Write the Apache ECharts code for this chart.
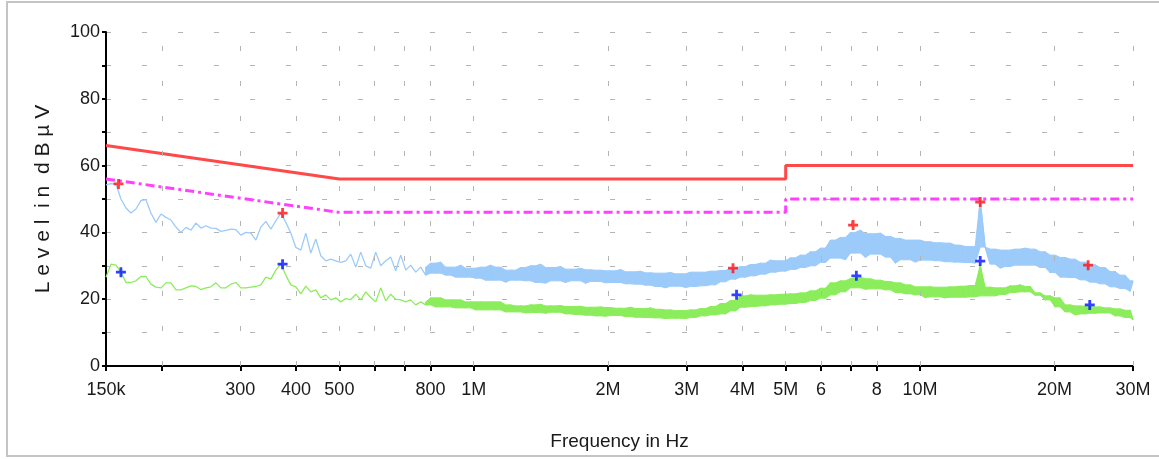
<!DOCTYPE html>
<html>
<head>
<meta charset="utf-8">
<script src="https://cdn.jsdelivr.net/npm/echarts@6/dist/echarts.min.js"></script>
<style>
  html, body { margin: 0; padding: 0; background: #fff; }
  #chart { width: 1159px; height: 459px; }
</style>
</head>
<body>
<div id="chart"></div>
<script>
// sweep frequencies in kHz
const freqKHz = [150,153.9,157.9,162,166.3,170.6,175.1,179.6,184.3,189.1,194.1,199.2,204.4,209.7,215.2,220.8,226.6,232.5,238.5,244.8,
  251.2,257.7,264.5,271.4,278.4,285.7,293.2,300.8,308.7,316.7,325,333.5,342.2,351.1,360.3,369.7,379.3,389.2,399.4,409.8,
  420.5,431.5,442.8,454.3,466.2,478.3,490.8,503.6,516.8,530.2,544.1,558.3,572.9,587.8,603.2,618.9,635.1,651.7,668.7,686.1,
  704.1,722.4,741.3,760.7,780.5,800.9,821.8,843.3,865.3,887.9,911.1,934.9,959.3,984.2,1010,1036,1063,1091,1120,1149,
  1179,1209,1241,1274,1307,1341,1376,1412,1449,1487,1526,1565,1606,1648,1691,1735,1781,1827,1875,1924,
  1974,2026,2079,2133,2189,2246,2304,2365,2426,2489,2554,2621,2690,2760,2832,2906,2982,3060,3140,3222,
  3306,3392,3481,3572,3665,3761,3859,3960,4063,4169,4278,4390,4505,4622,4743,4867,4994,5124,5258,5396,
  5537,5681,5830,5982,6138,6298,6463,6632,6805,6983,7165,7352,7544,7741,7943,8151,8364,8582,8806,9036,
  9272,9514,9762,10010,10270,10540,10820,11100,11390,11680,11990,12300,12620,12950,13290,13640,13990,14360,14730,15120,
  15510,15920,16330,16760,17200,17650,18110,18580,19060,19560,20070,20600,21140,21690,22250,22830,23430,24040,24670,25310,
  25970,26650,27350,28060,28800,29550,30000];

// peak detector trace (dBuV)
const peakLevel = [54.2,54.6,54.5,50,47.3,45.8,47,49.5,49.8,45.8,
  43,45.5,44.5,43.7,41.6,40,41.5,40.7,42.8,41.3,
  42,41.3,41.2,40.3,40.6,41,40.8,39.2,40,39.8,
  37.7,41.6,43.3,41,43.5,45.8,43,39.8,35.5,34.7,
  39.8,33.8,38,33,31.5,32,31.5,31,31.5,33.5,
  29.6,34.1,30,29.3,34.1,30,31.5,32.6,28.5,33.2,
  28.7,30.2,28.1,29.6,27.2,30.8,27.8,31.1,27.2,29.6,
  26.6,30.2,26.6,29.3,26.3,29.6,25.7,30.2,25.7,29.6,
  25.1,28.7,25.7,29.5,25.5,30,25,30.5,24.8,29.5,
  25.5,29.8,25,29,25.5,29.3,24.8,28.8,25.3,28.7,
  24.9,28.5,25,28.9,24.6,28.2,24.5,28.4,24.2,27.9,
  23.8,27.8,23.4,28,23.9,27.6,23.5,28.1,23.8,28.1,
  24,28.4,24.3,28.6,25.2,29.3,26,29.8,26.6,30.4,
  27,30.8,27.5,31.7,28.1,31.5,28.4,32.4,28.9,33.2,
  29.5,34.2,30,35.3,31,37.7,32.3,38.5,31.8,40,
  33.8,40.7,32.5,39.6,33.5,39.8,32.6,38.8,30.8,38.2,
  31.8,37.7,31.1,37.7,31.7,37.2,31.5,36.9,31.2,36.8,
  31.1,36.2,31,35.8,30.8,49.7,35.6,30.5,35,29.3,
  34.7,29.8,35,30.2,35.3,30.2,35,29.5,34.2,28,
  33.2,26.6,32.5,26.5,32,25.8,31.1,25.1,30.3,24.6,
  29.5,23.7,28.3,23.2,27.2,22.4,25.5];

// average detector trace (dBuV)
const avgLevel = [26.6,30.5,30.2,28.1,25,25,25.5,26.8,26.8,24.5,
  23.6,23.4,24.9,24.9,22.8,22.8,23.4,24,23.8,22.9,
  23.4,23.7,24.9,23.4,23.4,24.5,25,23.4,23.4,23.6,
  23.8,24.3,26.6,26,28.7,30.6,27.2,24.3,23.7,21.6,
  23.9,22.2,22.8,20.4,21.3,19.8,20.4,19.2,20.2,19.9,
  21.5,19.8,22.2,20.5,19.2,23.4,19.5,21.5,20,19.8,
  19.2,19.8,18.3,19.2,18.3,20.4,17.7,20.4,17.7,19.8,
  17.4,19.8,17.4,19.2,16.8,19.2,16.8,19.2,16.8,19.2,
  16.2,18.3,16.2,18,15.9,18.3,16,18.5,15.8,18,
  16.1,18.1,15.6,17.8,15.4,17.9,15.2,17.6,15,17.7,
  14.9,17.5,15.1,17.3,14.8,17.6,14.6,17.2,14.5,17.4,
  14.4,17,14.2,16.8,14.3,16.6,14.2,16.8,14.5,17.2,
  15,17.8,15.3,18.7,15.6,19.6,16.5,21,17.6,21.3,
  17.8,21.2,18,21.3,18.3,21.5,18.5,21.6,18.7,21.9,
  19,22.5,19.6,23.3,20.3,24.9,21.3,25.5,22.2,26.2,
  23.4,26.6,23,26.1,23.1,25.7,22.8,25.3,22,24.9,
  21.6,24.3,21.3,23.7,20.5,23.7,20.7,23.6,20.4,23.7,
  20.6,23.9,20.6,24.1,20.7,30.2,21,23.6,21,23.4,
  21.4,24,22,24.3,22.2,23.8,21.2,21.9,19.8,21,
  17.7,20.4,16.2,18.3,15.3,18,15.6,17.9,15.8,17.7,
  15.9,17.4,15,17.1,14.5,16.7,13.8];

// limit lines [kHz, dBuV]
const qpLimit = [[150, 66], [500, 56], [5000, 56], [5000, 60], [30000, 60]];
const avLimit = [[150, 56], [500, 46], [5000, 46], [5000, 50], [30000, 50]];

// final measurement markers [kHz, dBuV]
const qpMarks = [[160, 54.5], [373, 45.8], [3810, 29.3], [7080, 42.2], [13640, 49.1], [23800, 30.2]];
const avMarks = [[162, 28.1], [373, 30.5], [3880, 21.3], [7200, 27], [13640, 31.4], [24000, 18.3]];

// axis ticks
const xTickValues = [150, 200, 300, 400, 500, 600, 700, 800, 1000, 2000, 3000, 4000, 5000, 6000, 7000, 8000, 10000, 20000, 30000];
const xLabelValues = [150, 300, 400, 500, 800, 1000, 2000, 3000, 4000, 5000, 6000, 8000, 10000, 20000, 30000];
const xLabelText = ['150k', '300', '400', '500', '800', '1M', '2M', '3M', '4M', '5M', '6', '8', '10M', '20M', '30M'];
const yLabelValues = [0, 20, 40, 60, 80, 100];

// above ~0.8 MHz the sweep is so dense that it prints as a solid band
const bandStart = 64;

const labelFont = '"Liberation Sans", Arial, sans-serif';
const gridLine = { color: '#b4b4b4', width: 1 };
const plusPath = 'path://M3.6,0H6.4V3.6H10V6.4H6.4V10H3.6V6.4H0V3.6H3.6Z';
const peakColor = '#9ccbfa';
const avgColor = '#8ced5c';

function xLabel(v) {
  let best = 0, bestD = Infinity;
  xLabelValues.forEach((t, i) => {
    const d = Math.abs(Math.log(v / t));
    if (d < bestD) { bestD = d; best = i; }
  });
  return xLabelText[best];
}

// trace line + filled band between its troughs and crests
function traceSeries(name, levels, color) {
  const last = levels.length - 1;
  const nb = (i) => [levels[i - 1], levels[Math.min(i + 1, last)]];
  const lo = (i) => Math.min(levels[i], Math.max(...nb(i)));
  const hi = (i) => Math.max(levels[i], Math.min(...nb(i)));
  const segs = [];
  for (let i = bandStart; i < last; i++) {
    segs.push([freqKHz[i], lo(i), hi(i), freqKHz[i + 1], lo(i + 1), hi(i + 1)]);
  }
  return [
    {
      name: name + ' band', type: 'custom', z: 2, silent: true,
      data: segs,
      encode: { x: [0, 3], y: [1, 2, 4, 5] },
      renderItem: (params, api) => ({
        type: 'polygon',
        shape: {
          points: [
            api.coord([api.value(0), api.value(1)]),
            api.coord([api.value(0), api.value(2)]),
            api.coord([api.value(3), api.value(5)]),
            api.coord([api.value(3), api.value(4)])
          ]
        },
        style: { fill: color, stroke: color, lineWidth: 1 }
      })
    },
    {
      name, type: 'line', z: 3, showSymbol: false,
      data: freqKHz.map((f, i) => [f, levels[i]]),
      lineStyle: { color, width: 1.3 }
    }
  ];
}

const chart = echarts.init(document.getElementById('chart'), null, { renderer: 'canvas' });
chart.setOption({
  animation: false,
  backgroundColor: '#fff',
  grid: { left: 106, right: 26, top: 32, bottom: 93, outerBoundsMode: 'none', containLabel: false },
  graphic: [{
    type: 'rect',
    shape: { x: 7, y: 2, width: 1170, height: 454 },
    style: { fill: 'none', stroke: '#c4c4c4', lineWidth: 2 },
    silent: true
  }],
  xAxis: {
    type: 'log',
    logBase: 10,
    min: 150,
    max: 30000,
    name: 'Frequency in Hz',
    nameLocation: 'middle',
    nameGap: 66,
    nameTextStyle: { fontFamily: labelFont, fontSize: 19, color: '#1a1a1a' },
    axisLine: { lineStyle: { color: '#000', width: 2 } },
    axisTick: { customValues: xTickValues, length: 5, lineStyle: { color: '#000', width: 2 } },
    axisLabel: {
      customValues: xLabelValues,
      formatter: xLabel,
      fontFamily: labelFont,
      fontSize: 18,
      color: '#1a1a1a',
      margin: 15
    },
    splitLine: { show: false },
    minorTick: { show: false },
    minorSplitLine: { show: false }
  },
  yAxis: {
    type: 'value',
    min: 0,
    max: 100,
    interval: 10,
    name: 'L e v e l  i n  d B µ V',
    nameLocation: 'middle',
    nameRotate: 90,
    nameGap: 52,
    nameTextStyle: { fontFamily: labelFont, fontSize: 21, color: '#1a1a1a' },
    axisLine: { show: true, lineStyle: { color: '#000', width: 2 } },
    axisTick: { show: true, length: 4, lineStyle: { color: '#000', width: 2 } },
    axisLabel: {
      customValues: yLabelValues,
      fontFamily: labelFont,
      fontSize: 18,
      color: '#1a1a1a',
      margin: 6
    },
    splitLine: { show: true, lineStyle: Object.assign({ type: [5, 31] }, gridLine) }
  },
  series: [
    {
      // vertical dashed grid at the frequency ticks
      name: 'xgrid', type: 'line', data: [], z: 1, silent: true,
      markLine: {
        silent: true, symbol: 'none', label: { show: false },
        lineStyle: Object.assign({ type: [5, 30] }, gridLine),
        emphasis: { disabled: true },
        data: xTickValues.slice(1).map(v => ({ xAxis: v }))
      }
    },
    ...traceSeries('peak', peakLevel, peakColor),
    ...traceSeries('average', avgLevel, avgColor),
    {
      name: 'QP limit', type: 'line', data: qpLimit, showSymbol: false, z: 4,
      lineStyle: { color: '#ff4848', width: 3 }
    },
    {
      name: 'AV limit', type: 'line', data: avLimit, showSymbol: false, z: 4,
      lineStyle: { color: '#ff40ff', width: 3, type: [9, 4, 3, 4] }
    },
    {
      name: 'QP final', type: 'scatter', data: qpMarks, symbol: plusPath, symbolSize: 10, z: 5,
      itemStyle: { color: '#ff1010' }
    },
    {
      name: 'AV final', type: 'scatter', data: avMarks, symbol: plusPath, symbolSize: 10, z: 5,
      itemStyle: { color: '#0010ff' }
    }
  ]
});
</script>
</body>
</html>
